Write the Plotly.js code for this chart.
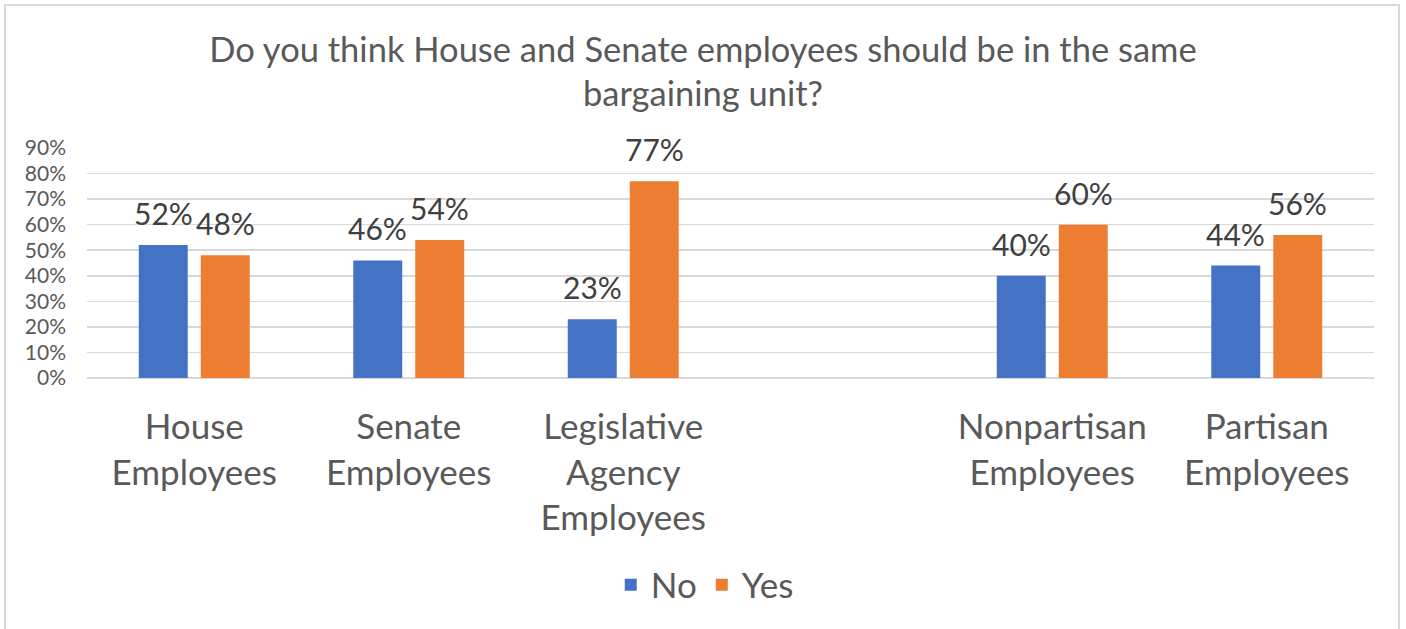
<!DOCTYPE html>
<html><head><meta charset="utf-8">
<script src="https://cdn.plot.ly/plotly-3.0.1.min.js"></script>
<style>
html,body{margin:0;padding:0;background:#fff;}
#chart{width:1406px;height:629px;}
#frame{position:absolute;left:4px;top:4px;width:1396px;height:640px;border:2px solid #d9d9d9;pointer-events:none;box-sizing:border-box;}
</style></head>
<body>
<div id="chart"></div>
<div id="frame"></div>
<script>
const categories = ["House<br>Employees", "Senate<br>Employees", "Legislative<br>Agency<br>Employees", " ", "Nonpartisan<br>Employees", "Partisan<br>Employees"];
const noValues = [0.52, 0.46, 0.23, null, 0.40, 0.44];
const yesValues = [0.48, 0.54, 0.77, null, 0.60, 0.56];
const seriesNames = ["No", "Yes"];
const yTickVals = [0, 0.1, 0.2, 0.3, 0.4, 0.5, 0.6, 0.7, 0.8, 0.9];
const yTickText = ["0%", "10%", "20%", "30%", "40%", "50%", "60%", "70%", "80%", "90%"];
const titleText = "Do you think House and Senate employees should be in the same<br>bargaining unit?";

const FONT = "Lato, 'Noto Sans', sans-serif";
const colors = ["#4472C4", "#ED7D31"];
const series = [noValues, yesValues];

const traces = series.map((vals, i) => ({
  type: "bar", name: seriesNames[i], x: categories, y: vals,
  marker: {color: colors[i]}, hoverinfo: "skip"
}));

// data labels placed through the axes at each bar's value
const annotations = [];
series.forEach((vals, i) => {
  vals.forEach((v, j) => {
    if (v == null) return;
    annotations.push({
      x: categories[j], y: v, xref: "x", yref: "y",
      text: Math.round(v * 100) + "%", showarrow: false,
      xanchor: "center", yanchor: "bottom",
      xshift: (i === 0 ? -31 : 31), yshift: 12,
      font: {family: FONT, size: 30, color: "#404040"}
    });
  });
});

const layout = {
  width: 1406, height: 629,
  margin: {l: 87, r: 32, t: 148, b: 251},
  paper_bgcolor: "#ffffff", plot_bgcolor: "#ffffff",
  font: {family: FONT, color: "#595959"},
  title: {text: titleText, font: {family: FONT, size: 34.5, color: "#595959"}, x: 0.5, xanchor: "center", y: 0.902, yanchor: "top"},
  barmode: "group", bargap: 0.422, bargroupgap: 0.21,
  xaxis: {type: "category", tickfont: {family: FONT, size: 35, color: "#595959"}, showgrid: false,
          showline: false, ticks: "", ticklabelstandoff: 25, fixedrange: true},
  yaxis: {range: [0, 0.9], tickvals: yTickVals, ticktext: yTickText, showgrid: true, gridcolor: "#d9d9d9", gridwidth: 1.5,
          zeroline: true, zerolinecolor: "#d9d9d9", zerolinewidth: 1.5, showline: false,
          tickfont: {family: FONT, size: 21, color: "#595959"}, ticks: "", ticklabelstandoff: 20, fixedrange: true},
  annotations: annotations,
  showlegend: true,
  legend: {orientation: "h", x: 0.48, xanchor: "center", y: -0.9, yanchor: "middle",
           font: {family: FONT, size: 35, color: "#595959"}, itemwidth: 30, traceorder: "normal"}
};

Plotly.newPlot("chart", traces, layout, {displayModeBar: false, staticPlot: true});
</script>
</body></html>
